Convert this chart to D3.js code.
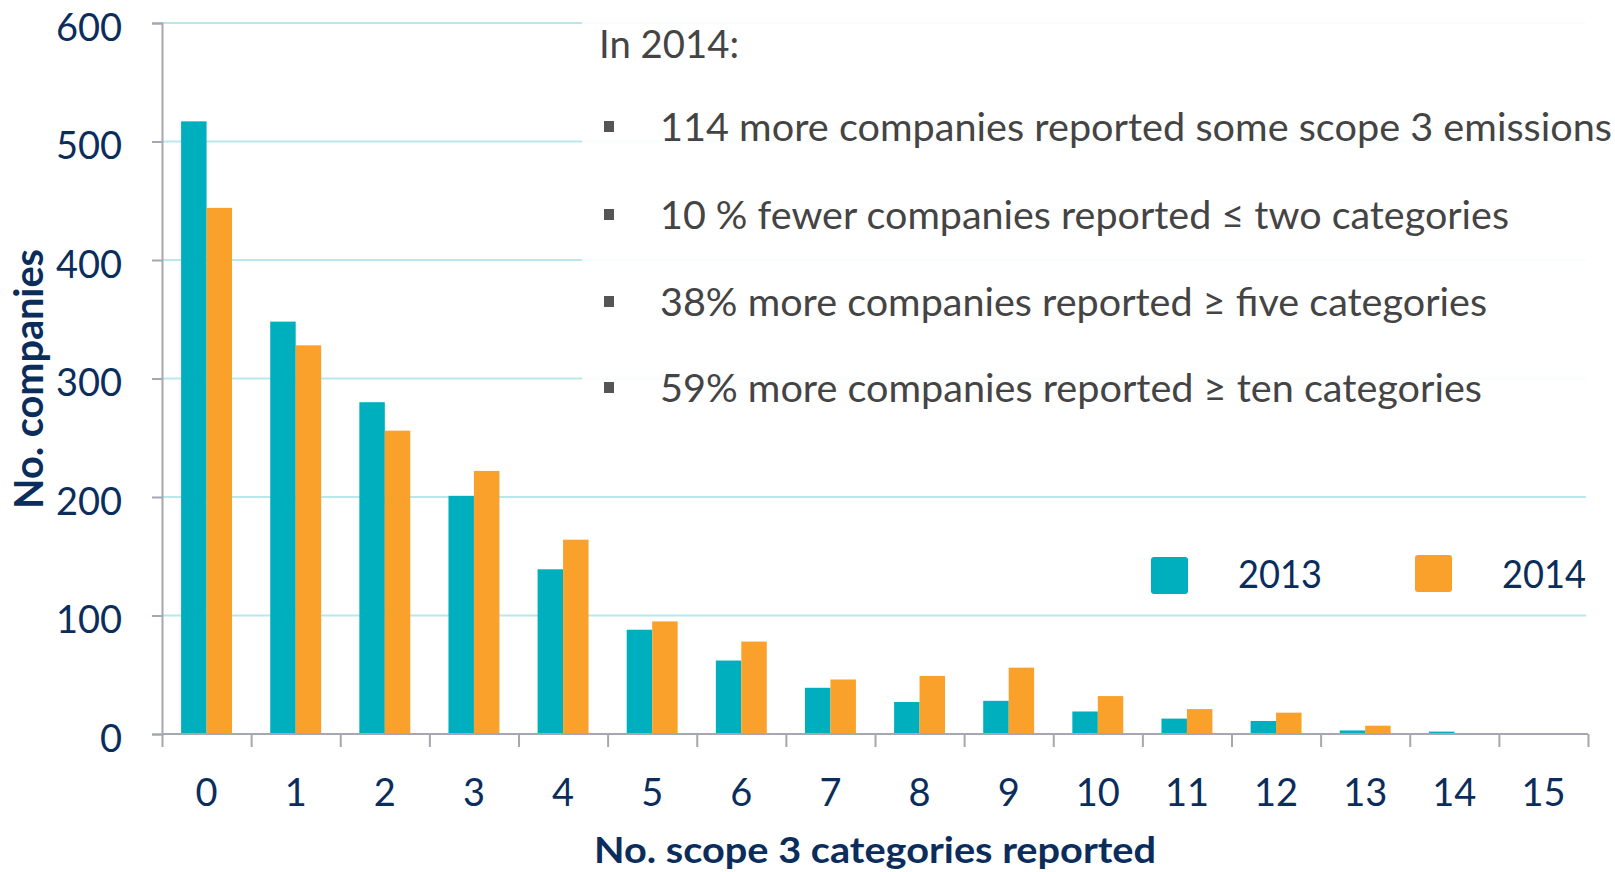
<!DOCTYPE html>
<html>
<head>
<meta charset="utf-8">
<script src="https://cdn.jsdelivr.net/npm/d3@7/dist/d3.min.js"></script>
<style>
  html, body { margin: 0; padding: 0; background: #ffffff; }
  svg { display: block; }
</style>
</head>
<body>
<svg id="chart" width="1615" height="872"></svg>
<script>
const categories = ["0","1","2","3","4","5","6","7","8","9","10","11","12","13","14","15"];
const seriesNames = ["2013", "2014"];
const values2013 = [517, 348, 280, 201, 139, 88, 62, 39, 27, 28, 19, 13, 11, 3, 2, 0];
const values2014 = [444, 328, 256, 222, 164, 95, 78, 46, 49, 56, 32, 21, 18, 7, 0, 0];
const yTicks = [0, 100, 200, 300, 400, 500, 600];
const yTitle = "No. companies";
const xTitle = "No. scope 3 categories reported";
const noteTitle = "In 2014:";
const noteLines = [
  "114 more companies reported some scope 3 emissions",
  "10 % fewer companies reported \u2264 two categories",
  "38% more companies reported \u2265 five categories",
  "59% more companies reported \u2265 ten categories"
];

const colors = { "2013": "#00AFBD", "2014": "#F9A12B" };
const navy = "#0B2D5C";
const axisGrey = "#A5A7B2";
const gridColor = "#B9E7EB";

const svg = d3.select("#chart");
const L = 162, R = 1588, T = 23, B = 734;

const x = d3.scaleBand().domain(categories).range([L, R]).padding(0);
const x1 = d3.scaleBand().domain(seriesNames).range([0, x.bandwidth()]).paddingInner(0).paddingOuter(0.75);
const y = d3.scaleLinear().domain([0, 600]).range([B, T]);

// gridlines
svg.append("g").selectAll("line").data(yTicks.filter(d => d > 0)).join("line")
  .attr("x1", L).attr("x2", R - 2)
  .attr("y1", d => y(d)).attr("y2", d => y(d))
  .attr("stroke", gridColor).attr("stroke-width", 2);

// note box background (semi-opaque white over gridlines)
svg.append("rect").attr("x", 582).attr("y", 0).attr("width", 1615 - 582).attr("height", 425)
  .attr("fill", "#ffffff").attr("fill-opacity", 0.9);

// bars
const data = categories.map((c, i) => ({ c, v: { "2013": values2013[i], "2014": values2014[i] } }));
const groups = svg.append("g").selectAll("g").data(data).join("g")
  .attr("transform", d => `translate(${x(d.c)},0)`);
groups.selectAll("rect").data(d => seriesNames.map(s => ({ s, v: d.v[s] }))).join("rect")
  .attr("x", d => x1(d.s))
  .attr("width", x1.bandwidth())
  .attr("y", d => y(d.v))
  .attr("height", d => B - y(d.v))
  .attr("fill", d => colors[d.s]);

// y axis
const yAxis = d3.axisLeft(y).tickValues(yTicks).tickSize(10).tickPadding(30).tickFormat(d3.format("d"));
const gy = svg.append("g").attr("transform", `translate(${L},0)`).call(yAxis);
gy.select(".domain").attr("stroke", axisGrey).attr("stroke-width", 2);
gy.selectAll(".tick line").attr("stroke", axisGrey).attr("stroke-width", 2);
gy.selectAll(".tick text")
  .attr("fill", navy).attr("font-family", "Lato, 'Open Sans', sans-serif").attr("font-size", 38)
  .attr("dy", "0.46em").attr("x", -40);

// x axis boundary ticks
const xb = d3.scaleLinear().domain([0, categories.length]).range([L, R]);
const xAxisTicks = d3.axisBottom(xb).tickValues(d3.range(categories.length + 1))
  .tickSize(13).tickFormat("");
const gx = svg.append("g").attr("transform", `translate(0,${B})`).call(xAxisTicks);
gx.select(".domain").attr("stroke", axisGrey).attr("stroke-width", 2).attr("d", `M${L},0H${R}`);
gx.selectAll(".tick line").attr("stroke", axisGrey).attr("stroke-width", 2);

// x labels
const xLabels = d3.axisBottom(x).tickSize(0).tickPadding(0);
const gxl = svg.append("g").attr("transform", `translate(0,${B})`).call(xLabels);
gxl.select(".domain").remove();
gxl.selectAll(".tick text")
  .attr("fill", navy).attr("font-family", "Lato, 'Open Sans', sans-serif").attr("font-size", 38)
  .attr("dy", null).attr("y", 72);

// axis titles
svg.append("text").attr("x", (L + R) / 2).attr("y", 863)
  .attr("text-anchor", "middle").attr("fill", navy)
  .attr("font-family", "Lato, 'Open Sans', sans-serif").attr("font-weight", "bold").attr("font-size", 36)
  .attr("textLength", 562).attr("lengthAdjust", "spacingAndGlyphs")
  .text(xTitle);

svg.append("text").attr("transform", "translate(43,379) rotate(-90)")
  .attr("text-anchor", "middle").attr("fill", navy)
  .attr("font-family", "Lato, 'Open Sans', sans-serif").attr("font-weight", "bold").attr("font-size", 41)
  .attr("textLength", 260).attr("lengthAdjust", "spacingAndGlyphs")
  .text(yTitle);

// legend
const legendItems = [
  { s: "2013", rx: 1151, ry: 557, tx: 1238 },
  { s: "2014", rx: 1415, ry: 555, tx: 1502 }
];
const lg = svg.append("g");
lg.selectAll("rect").data(legendItems).join("rect")
  .attr("x", d => d.rx).attr("y", d => d.ry).attr("width", 37).attr("height", 37)
  .attr("rx", 3).attr("fill", d => colors[d.s]);
lg.selectAll("text").data(legendItems).join("text")
  .attr("x", d => d.tx).attr("y", 588)
  .attr("fill", navy).attr("font-family", "Lato, 'Open Sans', sans-serif").attr("font-size", 38)
  .attr("textLength", 84).attr("lengthAdjust", "spacingAndGlyphs")
  .text(d => d.s);

// note text
const noteFont = "Lato, 'Open Sans', sans-serif";
const noteColor = "#444444";
svg.append("text").attr("x", 599).attr("y", 58)
  .attr("fill", noteColor).attr("font-family", noteFont).attr("font-size", 39)
  .attr("textLength", 140).attr("lengthAdjust", "spacingAndGlyphs")
  .text(noteTitle);
const lineBase = [141, 229, 316, 402];
const lineWidths = [952, 849, 827, 822];
const ng = svg.append("g");
ng.selectAll("rect").data(noteLines).join("rect")
  .attr("x", 604).attr("y", (d, i) => lineBase[i] - 20).attr("width", 10).attr("height", 11)
  .attr("fill", "#555555");
ng.selectAll("text").data(noteLines).join("text")
  .attr("x", 660).attr("y", (d, i) => lineBase[i])
  .attr("fill", noteColor).attr("font-family", noteFont).attr("font-size", 38)
  .attr("textLength", (d, i) => lineWidths[i]).attr("lengthAdjust", "spacingAndGlyphs")
  .text(d => d);
</script>
</body>
</html>
